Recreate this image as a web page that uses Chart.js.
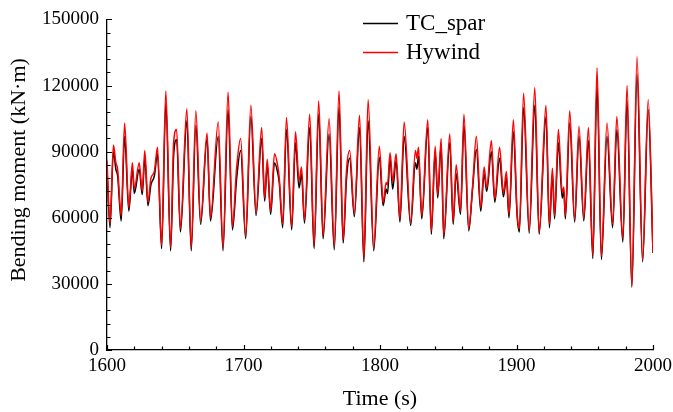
<!DOCTYPE html>
<html>
<head>
<meta charset="utf-8">
<script src="https://cdn.jsdelivr.net/npm/chart.js@4.4.1/dist/chart.umd.min.js"></script>
<style>
  html, body { margin: 0; padding: 0; background: #fff; }
  #wrap { width: 673px; height: 412px; }
</style>
</head>
<body>
<div id="wrap"><canvas id="chart" width="673" height="412"></canvas></div>
<script>
// time (s), read at each peak / trough of the traces
const times = [
  1600.0, 1602.2, 1604.7, 1606.5, 1607.8, 1610.4, 1612.9, 1616.0, 1618.6, 1620.0,
  1623.6, 1625.8, 1627.7, 1630.0, 1632.2, 1634.7, 1637.0, 1640.0, 1643.1, 1646.6,
  1648.8, 1651.0, 1653.8, 1658.5, 1661.7, 1665.1, 1668.6, 1673.3, 1675.8, 1681.5,
  1685.0, 1688.7, 1691.9, 1695.0, 1697.9, 1701.6, 1705.4, 1709.2, 1713.3, 1715.5,
  1717.4, 1719.9, 1722.7, 1725.2, 1726.2, 1728.7, 1731.5, 1735.3, 1738.1, 1740.7,
  1742.5, 1744.7, 1748.5, 1751.7, 1755.1, 1758.3, 1762.7, 1766.5, 1770.0, 1773.0,
  1775.5, 1777.8, 1781.2, 1785.0, 1788.2, 1791.3, 1795.4, 1799.5, 1802.3, 1804.5,
  1805.5, 1807.4, 1809.3, 1811.8, 1814.6, 1817.7, 1822.5, 1825.9, 1827.0, 1828.2,
  1830.6, 1835.0, 1837.6, 1840.4, 1842.3, 1844.8, 1846.7, 1851.1, 1853.6, 1855.8,
  1859.0, 1861.5, 1865.0, 1867.8, 1870.6, 1873.8, 1876.3, 1878.2, 1881.6, 1884.1,
  1887.6, 1890.4, 1892.6, 1894.5, 1897.7, 1900.4, 1902.1, 1905.2, 1909.3, 1913.4,
  1916.6, 1921.6, 1924.1, 1926.3, 1927.9, 1930.7, 1933.5, 1934.7, 1935.8, 1939.0,
  1942.6, 1945.8, 1949.3, 1952.7, 1955.9, 1959.0, 1962.2, 1966.3, 1970.4, 1973.5,
  1977.9, 1981.0, 1984.5, 1988.3, 1992.4, 1996.5, 2000.0
];

// bending moment (kN·m)
const tcSpar = [
  82000, 55500, 90000, 82000, 79000, 58500, 97000, 63000, 82000, 71000,
  82000, 70500, 87000, 65500, 75000, 79000, 89000, 46000, 112000, 45000,
  88000, 95500, 53500, 104000, 45000, 102000, 57000, 96000, 58500, 97000,
  45000, 109000, 54500, 78000, 90500, 50500, 106000, 61000, 96000, 67500,
  84000, 61500, 85000, 80000, 76000, 55500, 100000, 54500, 94000, 73500,
  80000, 57500, 101000, 46000, 107000, 50500, 98000, 45500, 110000, 48500,
  78000, 87000, 60500, 101000, 40000, 104000, 45000, 87500, 65500, 73000,
  71000, 87000, 73000, 86000, 58000, 97000, 56500, 85000, 82000, 88000,
  59500, 101000, 52500, 90000, 69000, 93000, 50500, 94000, 57000, 80000,
  61500, 102000, 54000, 73000, 91000, 63000, 80000, 72000, 90000, 67000,
  87000, 69500, 78000, 60000, 99000, 61500, 53500, 110000, 53000, 111000,
  52500, 106000, 55500, 80000, 59500, 94000, 69000, 72000, 59500, 103000,
  58000, 97000, 58500, 95000, 41500, 120000, 41000, 97000, 55500, 100000,
  49000, 113000, 28500, 125000, 40000, 109000, 44000
];

const hywind = [
  86000, 57000, 93000, 85000, 82000, 61000, 103000, 64500, 85000, 73000,
  85000, 72000, 90500, 67000, 78000, 81000, 92000, 47500, 117500, 46500,
  94000, 100000, 55000, 109500, 46500, 108500, 58500, 98500, 60000, 103500,
  46500, 117000, 56000, 83000, 96000, 52000, 111000, 62500, 101000, 69000,
  86500, 63000, 89000, 83000, 78000, 57000, 105500, 56000, 99000, 76500,
  83000, 59000, 107000, 47500, 113000, 52000, 105000, 47000, 117500, 50000,
  82000, 90500, 62000, 106500, 41500, 113500, 46500, 92500, 67000, 76000,
  75000, 89500, 76500, 89000, 59500, 103500, 58000, 90500, 87000, 92000,
  61000, 104500, 54000, 92500, 70500, 96000, 52000, 98000, 58500, 84000,
  63000, 107000, 55500, 74000, 97000, 64500, 83000, 73500, 95000, 68500,
  92000, 71000, 81000, 61500, 104500, 63000, 55000, 116500, 54500, 119000,
  53500, 111000, 57000, 82500, 61000, 100000, 71500, 74000, 61000, 108500,
  59500, 101500, 60000, 101000, 43000, 128000, 42500, 103000, 57000, 106000,
  50500, 120000, 29000, 133000, 41000, 113500, 44500
];

const seriesNames = ['TC_spar', 'Hywind'];
const seriesColors = ['#000000', '#ff0000'];
const xMin = 1600, xMax = 2000, xStep = 100, xMinorStep = 20;
const yMin = 0, yMax = 150000, yStep = 30000, yMinorStep = 6000;

const FONT = '"Liberation Serif", "Times New Roman", serif';

function toPoints(values) {
  return times.map((t, i) => ({ x: t, y: values[i] }));
}

// ticks point into the plot, like the original
const inwardTicks = {
  id: 'inwardTicks',
  afterDraw(chart) {
    const { ctx, chartArea, scales } = chart;
    ctx.save();
    ctx.strokeStyle = '#000';
    ctx.lineWidth = 1.2;
    ctx.beginPath();
    for (let v = xMin; v <= xMax; v += xMinorStep) {
      const px = Math.round(scales.x.getPixelForValue(v)) + 0.5;
      const len = v % xStep === 0 ? 5 : 3.5;
      ctx.moveTo(px, chartArea.bottom);
      ctx.lineTo(px, chartArea.bottom - len);
    }
    for (let v = yMin; v <= yMax; v += yMinorStep) {
      const py = Math.round(scales.y.getPixelForValue(v)) + 0.5;
      const len = v % yStep === 0 ? 5 : 3.5;
      ctx.moveTo(chartArea.left, py);
      ctx.lineTo(chartArea.left + len, py);
    }
    ctx.stroke();
    ctx.restore();
  }
};

// legend in the upper middle and the rotated y title
const annotations = {
  id: 'annotations',
  afterDraw(chart) {
    const { ctx } = chart;
    ctx.save();
    ctx.font = `23px ${FONT}`;
    ctx.textBaseline = 'middle';
    ctx.fillStyle = '#000';
    const rows = [23, 52];
    seriesNames.forEach((name, i) => {
      ctx.strokeStyle = seriesColors[i];
      ctx.lineWidth = 1.3;
      ctx.beginPath();
      ctx.moveTo(363, rows[i] + 0.5);
      ctx.lineTo(398, rows[i] + 0.5);
      ctx.stroke();
      ctx.fillText(name, 406, rows[i] + 1);
    });

    ctx.translate(19, 170);
    ctx.rotate(-Math.PI / 2);
    ctx.font = `22px ${FONT}`;
    ctx.textAlign = 'center';
    ctx.fillText('Bending moment (kN·m)', 0, 0);
    ctx.restore();
  }
};

new Chart(document.getElementById('chart'), {
  type: 'line',
  data: {
    datasets: [
      {
        label: seriesNames[0],
        data: toPoints(tcSpar),
        borderColor: seriesColors[0],
        borderWidth: 1.5,
        pointRadius: 0,
        cubicInterpolationMode: 'monotone',
        order: 1
      },
      {
        label: seriesNames[1],
        data: toPoints(hywind),
        borderColor: seriesColors[1],
        borderWidth: 1.5,
        pointRadius: 0,
        cubicInterpolationMode: 'monotone',
        order: 0
      }
    ]
  },
  options: {
    responsive: false,
    animation: false,
    devicePixelRatio: 1,
    layout: { padding: { left: 0, right: 20, top: 14, bottom: 0 } },
    plugins: {
      legend: { display: false },
      tooltip: { enabled: false }
    },
    scales: {
      x: {
        type: 'linear',
        min: xMin,
        max: xMax,
        afterFit: (scale) => {
          scale.height = 62;
          scale.paddingLeft = 0;
          scale.paddingRight = 0;
        },
        ticks: {
          stepSize: xStep,
          color: '#000',
          padding: 5,
          maxRotation: 0,
          font: { family: FONT, size: 19 },
          callback: (v) => String(v)
        },
        grid: { display: true, drawOnChartArea: false, drawTicks: false },
        border: { display: true, color: '#000', width: 1.3 },
        title: {
          display: true,
          text: 'Time (s)',
          color: '#000',
          padding: { top: 0, bottom: 0 },
          font: { family: FONT, size: 22 }
        }
      },
      y: {
        min: yMin,
        max: yMax,
        afterFit: (scale) => { scale.width = 107; },
        ticks: {
          stepSize: yStep,
          color: '#000',
          padding: 8,
          font: { family: FONT, size: 19 },
          callback: (v) => String(v)
        },
        grid: { display: true, drawOnChartArea: false, drawTicks: false },
        border: { display: true, color: '#000', width: 1.3 }
      }
    }
  },
  plugins: [inwardTicks, annotations]
});
</script>
</body>
</html>
